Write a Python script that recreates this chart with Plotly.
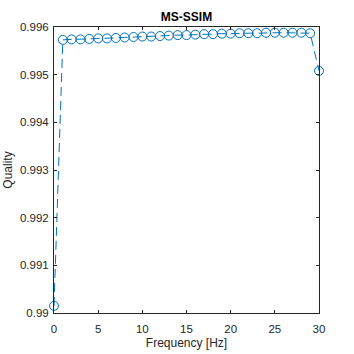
import plotly.graph_objects as go

freq = list(range(0, 31))
quality = [0.99015, 0.99573, 0.99574, 0.99574, 0.99575, 0.99576, 0.99576, 0.99577,
           0.99578, 0.99579, 0.99580, 0.99580, 0.99581, 0.99582, 0.99583, 0.99583,
           0.99584, 0.99585, 0.99585, 0.99586, 0.99586, 0.99587, 0.99587, 0.99587,
           0.99588, 0.99588, 0.99588, 0.99588, 0.99588, 0.99587, 0.99508]
xticks = [0, 5, 10, 15, 20, 25, 30]
yticks = [0.99, 0.991, 0.992, 0.993, 0.994, 0.995, 0.996]
ytick_text = ["0.99", "0.991", "0.992", "0.993", "0.994", "0.995", "0.996"]

color = "#0072BD"
font = "Liberation Sans, Arial, sans-serif"

fig = go.Figure(go.Scatter(
    x=freq, y=quality, mode="lines+markers",
    line=dict(color=color, width=1, dash="9px,5px"),
    marker=dict(symbol="circle-open", size=9, color=color, line=dict(width=1, color=color)),
    cliponaxis=False,
))

axis_common = dict(
    showgrid=False, zeroline=False, showline=True, linecolor="#262626", linewidth=1,
    mirror="ticks", ticks="inside", ticklen=3, tickcolor="#262626",
    tickfont=dict(family=font, size=11.5, color="#262626"), automargin=False,
)
fig.update_xaxes(range=[0, 30], tickvals=xticks, ticklabelstandoff=5, **axis_common,
                 title=dict(text="Frequency [Hz]", font=dict(family=font, size=12, color="#262626"), standoff=4))
fig.update_yaxes(range=[0.99, 0.996], tickvals=yticks, ticktext=ytick_text, ticklabelstandoff=2, **axis_common,
                 title=dict(text="Quality", font=dict(family=font, size=12, color="#262626"), standoff=4))

fig.update_layout(
    width=354, height=354,
    margin=dict(l=54, r=35, t=27, b=41),
    paper_bgcolor="white", plot_bgcolor="white",
    showlegend=False,
    title=dict(text="<b>MS-SSIM</b>", x=(54 + 319) / 2 / 354, xanchor="center", y=1 - 17 / 354, yanchor="middle",
               font=dict(family=font, size=12, color="black")),
)

fig.write_html("out.html")
